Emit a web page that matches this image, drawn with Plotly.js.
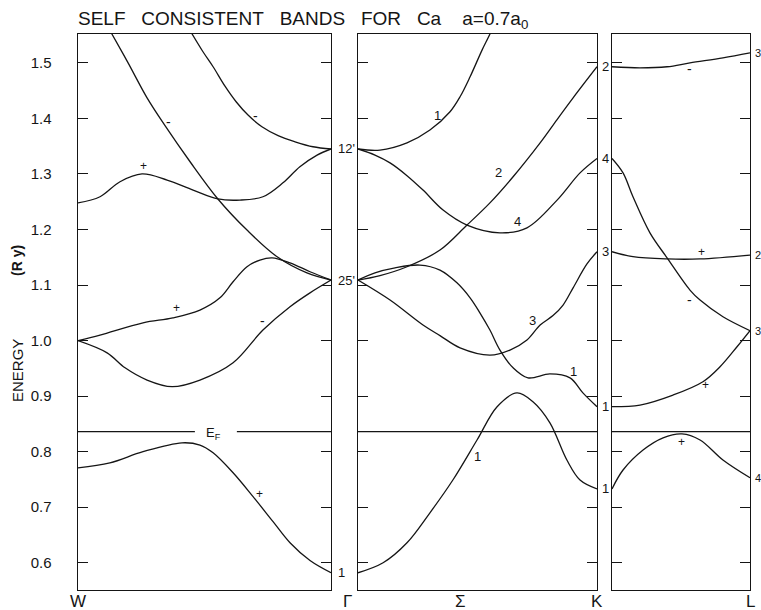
<!DOCTYPE html>
<html>
<head>
<meta charset="utf-8">
<script src="https://cdn.plot.ly/plotly-3.0.1.min.js"></script>
<style>
  html, body { margin: 0; padding: 0; background: #fff; }
  #chart { width: 761px; height: 610px; }
</style>
</head>
<body>
<div id="chart"></div>
<script>
// Energy bands of Ca (a = 0.7 a0), energies in Ry.
// k runs from 0 to 1 along each segment of the path W-Γ, Γ-K (Σ), K-L.

const EF = 0.836;                 // Fermi level
const EF_LABEL_GAP = [0.462, 0.628]; // break in the W-Γ Fermi line around "E_F"

// ---- W → Γ ----
const wg1_k = [0.115, 0.134, 0.198, 0.273, 0.344, 0.443, 0.553, 0.668, 0.787, 0.905, 1];
const wg1_e = [1.568, 1.552, 1.500, 1.437, 1.387, 1.322, 1.255, 1.199, 1.151, 1.122, 1.109];

const wg2_k = [0.423, 0.451, 0.494, 0.534, 0.581, 0.625, 0.672, 0.727, 0.791, 0.858, 0.929, 1];
const wg2_e = [1.574, 1.552, 1.520, 1.493, 1.458, 1.430, 1.406, 1.385, 1.369, 1.358, 1.349, 1.345];

const wg3_k = [0, 0.087, 0.166, 0.253, 0.352, 0.455, 0.553, 0.640, 0.731, 0.810, 0.877, 0.945, 1];
const wg3_e = [1.248, 1.259, 1.286, 1.300, 1.289, 1.271, 1.255, 1.253, 1.259, 1.284, 1.313, 1.334, 1.345];

const wg4_k = [0, 0.087, 0.257, 0.375, 0.482, 0.561, 0.613, 0.668, 0.719, 0.767, 0.838, 0.917, 1];
const wg4_e = [1.000, 1.010, 1.032, 1.041, 1.055, 1.077, 1.106, 1.133, 1.145, 1.149, 1.140, 1.124, 1.109];

const wg5_k = [0, 0.115, 0.186, 0.273, 0.372, 0.482, 0.613, 0.731, 0.838, 0.917, 1];
const wg5_e = [1.000, 0.978, 0.951, 0.929, 0.917, 0.929, 0.960, 1.019, 1.061, 1.086, 1.109];

const wg6_k = [0, 0.126, 0.257, 0.411, 0.482, 0.534, 0.613, 0.692, 0.771, 0.838, 0.917, 1];
const wg6_e = [0.771, 0.780, 0.800, 0.816, 0.812, 0.798, 0.762, 0.719, 0.674, 0.636, 0.604, 0.582];

// ---- Γ → K ----
const gk1_k = [0, 0.092, 0.205, 0.301, 0.385, 0.427, 0.469, 0.519, 0.552, 0.569];
const gk1_e = [1.345, 1.343, 1.356, 1.379, 1.412, 1.439, 1.475, 1.523, 1.552, 1.570];

const gk2_k = [0, 0.092, 0.205, 0.343, 0.456, 0.552, 0.649, 0.762, 0.833, 0.900, 1];
const gk2_e = [1.109, 1.117, 1.133, 1.163, 1.208, 1.248, 1.295, 1.356, 1.398, 1.437, 1.493];

const gk3_k = [0, 0.071, 0.134, 0.205, 0.272, 0.356, 0.456, 0.594, 0.707, 0.833, 0.929, 1];
const gk3_e = [1.345, 1.334, 1.320, 1.297, 1.271, 1.235, 1.208, 1.194, 1.203, 1.253, 1.302, 1.328];

const gk4_k = [0, 0.071, 0.155, 0.259, 0.343, 0.414, 0.469, 0.510, 0.552, 0.594, 0.649, 0.711, 0.803, 0.887, 0.941, 1];
const gk4_e = [1.109, 1.122, 1.131, 1.136, 1.127, 1.104, 1.077, 1.050, 1.019, 0.983, 0.951, 0.933, 0.940, 0.933, 0.906, 0.881];

const gk5_k = [0, 0.134, 0.272, 0.343, 0.427, 0.552, 0.636, 0.707, 0.762, 0.816, 0.858, 0.900, 0.958, 1];
const gk5_e = [1.109, 1.073, 1.028, 1.009, 0.987, 0.974, 0.983, 1.001, 1.028, 1.045, 1.064, 1.095, 1.138, 1.160];

const gk6_k = [0, 0.105, 0.205, 0.301, 0.397, 0.498, 0.582, 0.665, 0.732, 0.803, 0.874, 0.929, 1];
const gk6_e = [0.582, 0.600, 0.636, 0.690, 0.749, 0.821, 0.881, 0.906, 0.890, 0.852, 0.785, 0.749, 0.733];

// ---- K → L ----
const kl1_k = [0, 0.203, 0.399, 0.565, 0.804, 1];
const kl1_e = [1.493, 1.491, 1.493, 1.500, 1.509, 1.518];

const kl2_k = [0, 0.080, 0.152, 0.275, 0.399, 0.565, 0.638, 0.804, 1];
const kl2_e = [1.328, 1.302, 1.259, 1.194, 1.149, 1.091, 1.073, 1.043, 1.018];

const kl3_k = [0, 0.152, 0.399, 0.638, 1];
const kl3_e = [1.160, 1.151, 1.147, 1.147, 1.154];

const kl4_k = [0, 0.203, 0.442, 0.659, 0.783, 0.906, 1];
const kl4_e = [0.881, 0.884, 0.902, 0.926, 0.953, 0.989, 1.018];

const kl5_k = [0, 0.080, 0.225, 0.370, 0.507, 0.638, 0.804, 1];
const kl5_e = [0.733, 0.767, 0.803, 0.825, 0.832, 0.821, 0.785, 0.753];

// Axis ticks and point labels
const energyTicks = [0.6, 0.7, 0.8, 0.9, 1.0, 1.1, 1.2, 1.3, 1.4, 1.5];
const pointNames = ['W', 'Γ', 'Σ', 'K', 'L'];

// Symmetry labels: [text, axis, k, E]
const symLabels = [
  ['1',   'x',  -0.040, wg3_e[0]],
  ['3',   'x',  -0.040, wg4_e[0]],
  ["2'",  'x',  -0.055, wg6_e[0]],
  ['-',   'x',   0.356, 1.394],
  ['-',   'x',   0.700, 1.405],
  ['+',   'x',   0.257, 1.315],
  ['+',   'x',   0.391, 1.059],
  ['-',   'x',   0.731, 1.036],
  ['+',   'x',   0.719, 0.724],
  ['1',   'x2',  0.331, 1.405],
  ['2',   'x2',  0.586, 1.302],
  ['4',   'x2',  0.669, 1.214],
  ['3',   'x2',  0.732, 1.036],
  ['1',   'x2',  0.900, 0.944],
  ['1',   'x2',  0.498, 0.791],
  ['-',   'x3',  0.558, 1.489],
  ['+',   'x3',  0.645, 1.160],
  ['-',   'x3',  0.565, 1.073],
  ['+',   'x3',  0.674, 0.920],
  ['+',   'x3',  0.500, 0.818]
];
// Labels at Γ (left-aligned in the gap after the W-Γ panel)
const gammaLabels = [["12'", wg2_e[wg2_e.length - 1]], ["25'", wg1_e[wg1_e.length - 1]], ['1', wg6_e[wg6_e.length - 1]]];
// Labels at K (in the gap between Γ-K and K-L)
const kLabels = [['2', gk2_e[gk2_e.length - 1]], ['4', gk3_e[gk3_e.length - 1]], ['3', gk5_e[gk5_e.length - 1]], ['1', gk4_e[gk4_e.length - 1]], ['1', gk6_e[gk6_e.length - 1]]];
// Labels at L (right edge)
const lLabels = [['3', kl1_e[kl1_e.length - 1]], ['2', kl3_e[kl3_e.length - 1]], ['3', kl2_e[kl2_e.length - 1]], ['4', kl5_e[kl5_e.length - 1]]];

const FONT = 'Liberation Sans, Arial, sans-serif';
const INK = '#151515';
const W = 761, H = 610;
const px = v => v / W;
const py = v => 1 - v / H;

function band(k, e, n) {
  const sfx = n === 1 ? '' : String(n);
  return {
    type: 'scatter', mode: 'lines', x: k, y: e,
    xaxis: 'x' + sfx, yaxis: 'y' + sfx,
    line: { color: INK, width: 1.3, shape: 'spline', smoothing: 1 },
    hoverinfo: 'skip', showlegend: false
  };
}
function flat(k0, k1, n) {
  const sfx = n === 1 ? '' : String(n);
  return {
    type: 'scatter', mode: 'lines', x: [k0, k1], y: [EF, EF],
    xaxis: 'x' + sfx, yaxis: 'y' + sfx,
    line: { color: INK, width: 1.3 }, hoverinfo: 'skip', showlegend: false
  };
}

const traces = [
  band(wg1_k, wg1_e, 1), band(wg2_k, wg2_e, 1), band(wg3_k, wg3_e, 1),
  band(wg4_k, wg4_e, 1), band(wg5_k, wg5_e, 1), band(wg6_k, wg6_e, 1),
  band(gk1_k, gk1_e, 2), band(gk2_k, gk2_e, 2), band(gk3_k, gk3_e, 2),
  band(gk4_k, gk4_e, 2), band(gk5_k, gk5_e, 2), band(gk6_k, gk6_e, 2),
  band(kl1_k, kl1_e, 3), band(kl2_k, kl2_e, 3), band(kl3_k, kl3_e, 3),
  band(kl4_k, kl4_e, 3), band(kl5_k, kl5_e, 3),
  flat(0, EF_LABEL_GAP[0], 1), flat(EF_LABEL_GAP[1], 1, 1),
  flat(0, 1, 2), flat(0, 1, 3)
];

const yDomain = [1 - 590 / H, 1 - 34 / H];
const yRange = [0.551, 1.552];

function xAxis(d0, d1, anchor) {
  return {
    domain: [px(d0), px(d1)], range: [0, 1], anchor: anchor,
    showline: true, mirror: true, linecolor: INK, linewidth: 1.4,
    showgrid: false, zeroline: false, ticks: '', showticklabels: false, fixedrange: true
  };
}
function yAxis(anchor, labels) {
  return {
    domain: yDomain, range: yRange, anchor: anchor,
    showline: true, mirror: 'ticks', linecolor: INK, linewidth: 1.4,
    ticks: 'inside', ticklen: 10, tickwidth: 1, tickcolor: INK,
    tickvals: energyTicks, tickformat: '.1f',
    showticklabels: labels, ticklabelstandoff: 22,
    tickfont: { family: FONT, size: 15, color: INK },
    showgrid: false, zeroline: false, fixedrange: true
  };
}

const ann = [];
function text(t, x, y, opts) {
  ann.push(Object.assign({
    text: t, x: x, y: y, xref: 'paper', yref: 'paper', showarrow: false,
    xanchor: 'center', yanchor: 'middle',
    font: { family: FONT, size: 13, color: INK }
  }, opts || {}));
}

// Title and axis caption
const sp = '&nbsp;&nbsp;&nbsp;';
text('SELF' + sp + 'CONSISTENT' + sp + 'BANDS' + sp + 'FOR' + sp + 'Ca' + sp + '&nbsp;a=0.7a<sub>0</sub>',
     px(76), py(20), { xanchor: 'left', font: { family: FONT, size: 19, color: INK } });
text('ENERGY', px(17), py(371), { textangle: -90, font: { family: FONT, size: 15, color: INK } });
text('<b>(R y)</b>', px(17), py(261), { textangle: -90, font: { family: FONT, size: 14, color: INK } });

// High-symmetry points under the axes
const pointX = [78, 347, 461, 597, 750];
pointNames.forEach((n, i) => text(n, px(pointX[i]), py(601), { font: { family: FONT, size: 17, color: INK } }));

// Fermi level label
ann.push({ text: 'E<sub>F</sub>', x: 0.534, y: EF - 0.004, xref: 'x', yref: 'y', showarrow: false,
  font: { family: FONT, size: 13, color: INK } });

// Symmetry labels inside the panels
symLabels.forEach(([t, ax, k, e]) => {
  const yr = ax === 'x' ? 'y' : 'y' + ax.slice(1);
  ann.push({ text: t, x: k, y: e, xref: ax, yref: yr, showarrow: false,
    font: { family: FONT, size: t === '-' ? 14 : (t === '+' ? 12 : 13), color: INK } });
});
gammaLabels.forEach(([t, e]) => ann.push({ text: t, x: px(336), y: e, xref: 'paper', yref: 'y',
  xanchor: 'left', showarrow: false, font: { family: FONT, size: 13, color: INK } }));
kLabels.forEach(([t, e]) => ann.push({ text: t, x: px(600), y: e, xref: 'paper', yref: 'y2',
  xanchor: 'left', showarrow: false, font: { family: FONT, size: 13, color: INK } }));
lLabels.forEach(([t, e]) => ann.push({ text: t, x: px(753), y: e, xref: 'paper', yref: 'y3',
  xanchor: 'left', showarrow: false, font: { family: FONT, size: 11, color: INK } }));

const layout = {
  width: W, height: H,
  margin: { l: 0, r: 0, t: 0, b: 0 },
  paper_bgcolor: '#ffffff', plot_bgcolor: '#ffffff',
  showlegend: false,
  xaxis: xAxis(78, 331, 'y'),
  yaxis: yAxis('x', true),
  xaxis2: xAxis(358, 597, 'y2'),
  yaxis2: yAxis('x2', false),
  xaxis3: xAxis(612, 750, 'y3'),
  yaxis3: yAxis('x3', false),
  annotations: ann
};

Plotly.newPlot('chart', traces, layout, { staticPlot: true, displayModeBar: false });
</script>
</body>
</html>
